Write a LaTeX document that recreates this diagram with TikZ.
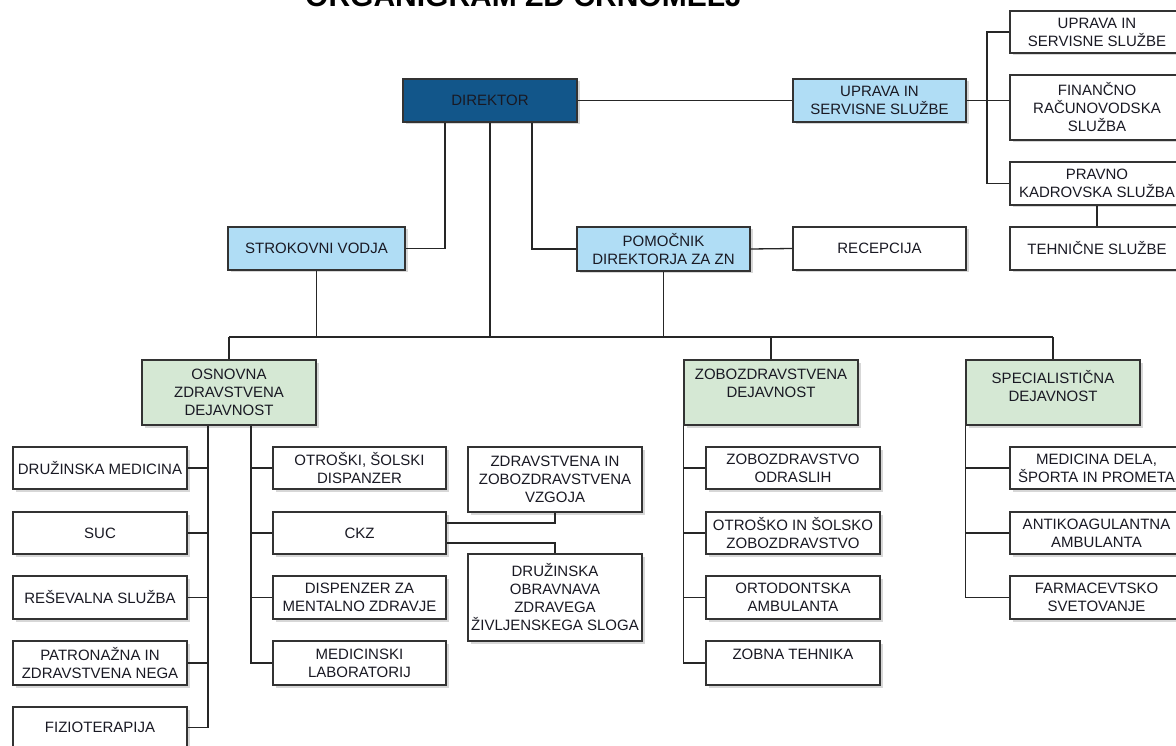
\documentclass[tikz,border=0pt]{standalone}
\usepackage{fontspec}
\setmainfont{Liberation Sans}
\usetikzlibrary{shadows}
\definecolor{dirblue}{RGB}{18,86,138}
\definecolor{lblue}{RGB}{176,221,245}
\definecolor{lgreen}{RGB}{213,232,212}
\definecolor{txt}{RGB}{25,25,35}
\tikzset{
  box/.style={draw=black!80, line width=1.3pt, fill=white, align=center, inner sep=0pt,
    text=txt, font=\fontsize{15}{18}\selectfont,
    drop shadow={shadow xshift=2.5pt, shadow yshift=-2.5pt, fill=black!35, opacity=0.45}},
  dirbox/.style={fill=dirblue},
  bluebox/.style={fill=lblue},
  greenbox/.style={fill=lgreen},
  conn/.style={draw=black!85, line width=1.3pt},
  ttl/.style={font=\fontsize{30}{36}\selectfont\bfseries, text=black, anchor=base, inner sep=0pt}
}
\newcommand\bx[7]{\node[box,#2,minimum width={(#5-#3)*1pt}, minimum height={(#6-#4)*1pt}] (#1) at ({(#3+#5)/2},{(#4+#6)/2}) {#7};}
\begin{document}
\begin{tikzpicture}[x=1pt,y=-1pt]
\useasboundingbox (0,0) rectangle (1176,746);
\clip (0,0) rectangle (1176,746);
\node[ttl] (title) at (523.5,7) {ORGANIGRAM ZD ČRNOMELJ};
% top level
\bx{dir}{dirbox}{403}{79}{577}{122}{DIREKTOR}
\bx{upr}{bluebox}{793}{79}{966}{122}{UPRAVA IN\\SERVISNE SLUŽBE}
\bx{strok}{bluebox}{228}{227}{405}{270}{STROKOVNI VODJA}
\bx{pom}{bluebox}{577}{227}{750}{271}{POMOČNIK\\DIREKTORJA ZA ZN}
\bx{rec}{}{793}{227}{966}{270}{RECEPCIJA}
% right column
\bx{u2}{}{1010}{11}{1184}{53}{UPRAVA IN\\SERVISNE SLUŽBE}
\bx{fin}{}{1010}{75}{1184}{140}{FINANČNO\\RAČUNOVODSKA\\SLUŽBA}
\bx{pk}{}{1010}{162}{1184}{205}{PRAVNO\\KADROVSKA SLUŽBA}
\bx{teh}{}{1010}{227}{1184}{270}{TEHNIČNE SLUŽBE}
% departments
\bx{osn}{greenbox}{142}{360}{316}{425}{OSNOVNA\\ZDRAVSTVENA\\DEJAVNOST}
\bx{zob}{greenbox}{684}{360}{858}{425}{ZOBOZDRAVSTVENA\\DEJAVNOST\\ }
\bx{spec}{greenbox}{966}{360}{1140}{425}{SPECIALISTIČNA\\DEJAVNOST\\[-4pt] }
% osnovna left
\bx{dm}{}{13}{447}{187}{489}{DRUŽINSKA MEDICINA}
\bx{suc}{}{13}{512}{187}{554}{SUC}
\bx{res}{}{13}{576}{187}{619}{REŠEVALNA SLUŽBA}
\bx{pat}{}{13}{641}{187}{685}{PATRONAŽNA IN\\ZDRAVSTVENA NEGA}
\bx{fiz}{}{13}{707}{187}{748}{FIZIOTERAPIJA}
% osnovna right
\bx{ots}{}{273}{447}{446}{489}{OTROŠKI, ŠOLSKI\\DISPANZER}
\bx{ckz}{}{273}{512}{446}{554}{CKZ}
\bx{dmz}{}{273}{576}{446}{619}{DISPENZER ZA\\MENTALNO ZDRAVJE}
\bx{ml}{}{273}{641}{446}{685}{MEDICINSKI\\LABORATORIJ}
\bx{zvz}{}{468}{447}{642}{512}{ZDRAVSTVENA IN\\ZOBOZDRAVSTVENA\\VZGOJA}
\bx{dob}{}{468}{554}{642}{641}{DRUŽINSKA\\OBRAVNAVA\\ZDRAVEGA\\ŽIVLJENSKEGA SLOGA}
% zobozdravstvena
\bx{zo}{}{706}{447}{880}{489}{ZOBOZDRAVSTVO\\ODRASLIH}
\bx{osz}{}{706}{512}{880}{554}{OTROŠKO IN ŠOLSKO\\ZOBOZDRAVSTVO}
\bx{ort}{}{706}{576}{880}{619}{ORTODONTSKA\\AMBULANTA}
\bx{zt}{}{706}{641}{880}{685}{ZOBNA TEHNIKA\\ }
% specialisticna
\bx{med}{}{1010}{447}{1183}{489}{MEDICINA DELA,\\ŠPORTA IN PROMETA}
\bx{ant}{}{1010}{512}{1183}{554}{ANTIKOAGULANTNA\\AMBULANTA}
\bx{far}{}{1010}{576}{1183}{619}{FARMACEVTSKO\\SVETOVANJE}
% connectors
\coordinate (bus) at (490,337);
\coordinate (rs) at (987,100);
\draw[conn] (dir.east) -- (upr.west);
\draw[conn] ([xshift=-45pt]dir.south) |- (strok.east);
\draw[conn] ([xshift=42pt]dir.south) |- (pom.west);
\draw[conn] (dir.south) -- (dir.south |- bus);
\draw[conn] (pom.east) -- (rec.west);
\draw[conn] (upr.east) -- (upr.east -| fin.west);
\draw[conn] (u2.west) -| (rs) |- (pk.west);
\draw[conn] (pk.south) -- (teh.north);
\draw[conn] (strok.south) -- (strok.south |- bus);
\draw[conn] (pom.south) -- (pom.south |- bus);
\draw[conn] (osn.north |- bus) -- (spec.north |- bus);
\draw[conn] (osn.north) -- (osn.north |- bus);
\draw[conn] (zob.north) -- (zob.north |- bus);
\draw[conn] (spec.north) -- (spec.north |- bus);
% osnovna trunks
\coordinate (ol) at ([xshift=-21pt]osn.south);
\coordinate (orr) at ([xshift=22pt]osn.south);
\draw[conn] (ol) |- (fiz.east);
\foreach \n in {dm,suc,res,pat} \draw[conn] (\n.east) -- (\n.east -| ol);
\draw[conn] (orr) |- (ml.west);
\foreach \n in {ots,ckz,dmz} \draw[conn] (\n.west) -- (\n.west -| orr);
\draw[conn] ([yshift=10pt]ckz.east) -| (zvz.south);
\draw[conn] ([yshift=-10pt]ckz.east) -| (dob.north);
% zob trunk
\draw[conn] (zob.south west) |- (zt.west);
\foreach \n in {zo,osz,ort} \draw[conn] (\n.west) -- (\n.west -| zob.south west);
% spec trunk
\draw[conn] (spec.south west) |- (far.west);
\foreach \n in {med,ant} \draw[conn] (\n.west) -- (\n.west -| spec.south west);
\end{tikzpicture}
\end{document}
